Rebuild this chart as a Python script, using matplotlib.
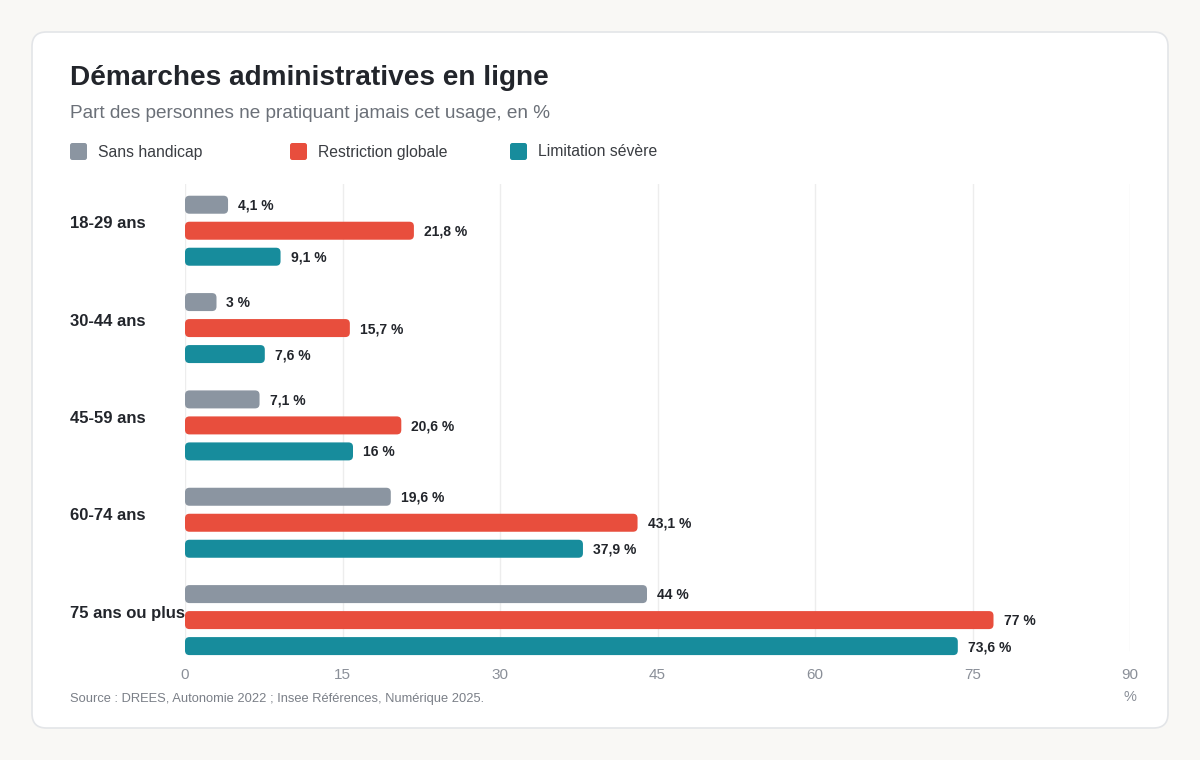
import matplotlib
matplotlib.use("Agg")
from matplotlib import pyplot as plt
from matplotlib.patches import FancyBboxPatch

plt.rcParams["font.family"] = ["Liberation Sans", "DejaVu Sans"]

categories = ["18-29 ans", "30-44 ans", "45-59 ans", "60-74 ans", "75 ans ou plus"]
series_names = ["Sans handicap", "Restriction globale", "Limitation sévère"]
sans_handicap = [4.1, 3.0, 7.1, 19.6, 44.0]
restriction_globale = [21.8, 15.7, 20.6, 43.1, 77.0]
limitation_severe = [9.1, 7.6, 16.0, 37.9, 73.6]
x_ticks = [0, 15, 30, 45, 60, 75, 90]

COLORS = ["#8b95a1", "#e84e3d", "#178c9c"]
BG = "#f9f8f5"
DARK = "#22252b"
GREY = "#6b7078"
TICK_GREY = "#8a8f98"

W, H = 1200, 760
fig = plt.figure(figsize=(W / 100, H / 100), dpi=100)
fig.patch.set_facecolor(BG)


def fx(px):
    return px / W


def fy(py):
    return 1 - py / H


# card behind everything
card = FancyBboxPatch(
    (fx(32), fy(728)), fx(1168) - fx(32), fy(32) - fy(728),
    boxstyle="round,pad=0,rounding_size=0.012",
    mutation_aspect=W / H,
    transform=fig.transFigure, facecolor="white", edgecolor="#e3e5e8",
    linewidth=1.2, zorder=-5,
)
fig.patches.append(card)

fig.text(fx(70), fy(78), "Démarches administratives en ligne", fontsize=20.2,
         fontweight="bold", color=DARK, va="center", ha="left")
fig.text(fx(70), fy(114), "Part des personnes ne pratiquant jamais cet usage, en %",
         fontsize=13.7, color=GREY, va="center", ha="left")

# legend
for i, (name, col) in enumerate(zip(series_names, COLORS)):
    x0 = 70 + i * 220
    sq = FancyBboxPatch(
        (fx(x0), fy(160)), fx(17), fy(143) - fy(160),
        boxstyle="round,pad=0,rounding_size=0.002", mutation_aspect=W / H,
        transform=fig.transFigure, facecolor=col, edgecolor="none",
    )
    fig.patches.append(sq)
    fig.text(fx(x0 + 28), fy(152), name, fontsize=11.3, color="#3a3d42",
             va="center", ha="left")

# category labels (drawn under the bars)
ax_left, ax_right, ax_top, ax_bottom = 185, 1130, 184, 660
px_per_x = (ax_right - ax_left) / 90
px_per_y = (ax_bottom - ax_top) / 4.89
for i, cat in enumerate(categories):
    fig.text(fx(70), fy(ax_top + (i + 0.48) * px_per_y - 7), cat, fontsize=12,
             fontweight="bold", color=DARK, va="center", ha="left", zorder=-1)

ax = fig.add_axes([fx(ax_left), fy(ax_bottom), fx(ax_right) - fx(ax_left),
                   fy(ax_top) - fy(ax_bottom)])
ax.set_facecolor("none")
ax.set_xlim(0, 90)
ax.set_ylim(4.41, -0.48)
for s in ax.spines.values():
    s.set_visible(False)
ax.set_xticks(x_ticks)
ax.set_xticklabels([str(t) for t in x_ticks])
ax.tick_params(axis="x", length=0, pad=6, labelsize=11, labelcolor=TICK_GREY)
ax.set_yticks([])
for t in x_ticks:
    ax.axvline(t, ymin=0.02, ymax=1, color="#ededed", linewidth=1, zorder=0)

bar_h = 18 / px_per_y
offset = 26 / px_per_y
rx = 4.5 / px_per_x
ry = 4.5 / px_per_y

all_series = [sans_handicap, restriction_globale, limitation_severe]
for j, (vals, col) in enumerate(zip(all_series, COLORS)):
    for i, v in enumerate(vals):
        yc = i + (j - 1) * offset
        bar = FancyBboxPatch(
            (0, yc - bar_h / 2), v, bar_h,
            boxstyle=f"round,pad=0,rounding_size={rx}",
            mutation_aspect=ry / rx,
            facecolor=col, edgecolor="none", zorder=3,
        )
        ax.add_patch(bar)
        label = f"{v:g}".replace(".", ",") + " %"
        ax.text(v + 10 / px_per_x, yc + 1 / px_per_y, label, fontsize=10,
                fontweight="bold", color=DARK, va="center", ha="left", zorder=4)

fig.text(fx(1130), fy(697), "%", fontsize=10.5, color=TICK_GREY,
         va="center", ha="center")
fig.text(fx(70), fy(699), "Source : DREES, Autonomie 2022 ; Insee Références, Numérique 2025.",
         fontsize=9.3, color="#7a7f87", va="center", ha="left")

fig.savefig("out.png", dpi=100, facecolor=BG)
